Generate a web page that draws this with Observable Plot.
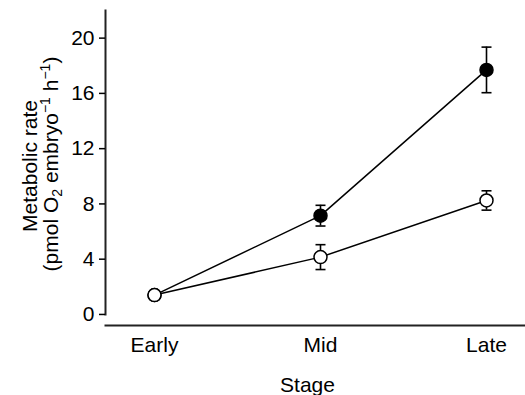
<!DOCTYPE html>
<html><head><meta charset="utf-8">
<script src="https://cdn.jsdelivr.net/npm/d3@7"></script>
<script src="https://cdn.jsdelivr.net/npm/@observablehq/plot@0.6"></script>
<style>
body{margin:0;background:#fff}
svg{font-family:"Liberation Sans",Arial,Helvetica,sans-serif}
</style>
</head><body><div id="chart"></div>
<script>
const stages = ["Early", "Mid", "Late"];
const filledMean = [1.4, 7.15, 17.7];
const filledSE = [0.2, 0.75, 1.65];
const openMean = [1.4, 4.15, 8.25];
const openSE = [0.2, 0.9, 0.7];
const yTicks = [0, 4, 8, 12, 16, 20];
const xLabel = "Stage";
const yLabelLine1 = "Metabolic rate";

const rows = (means, ses) => stages.map((s, i) => ({stage: s, mean: means[i], lo: means[i] - ses[i], hi: means[i] + ses[i]}));
const filled = rows(filledMean, filledSE);
const open = rows(openMean, openSE);

const cap = {draw(ctx, size) { const r = Math.sqrt(size / Math.PI); ctx.moveTo(-r, 0); ctx.lineTo(r, 0); }};

function series(data, fill) {
  return [
    Plot.line(data, {x: "stage", y: "mean", stroke: "black", strokeWidth: 1.5}),
    Plot.ruleX(data, {x: "stage", y1: "lo", y2: "hi", stroke: "black", strokeWidth: 1.6}),
    Plot.dot(data, {x: "stage", y: "lo", symbol: cap, r: 5, stroke: "black", strokeWidth: 1.6}),
    Plot.dot(data, {x: "stage", y: "hi", symbol: cap, r: 5, stroke: "black", strokeWidth: 1.6}),
    Plot.dot(data, {x: "stage", y: "mean", r: 6.5, fill, stroke: "black", strokeWidth: 1.5})
  ];
}

const FS = 21;
const chart = Plot.plot({
  width: 525,
  height: 395,
  marginLeft: 105,
  marginRight: 0,
  marginTop: 10,
  marginBottom: 70,
  style: {background: "#fff", color: "#000", fontFamily: '"Liberation Sans",Arial,Helvetica,sans-serif'},
  x: {type: "point", domain: stages, range: [154, 486], padding: 0},
  y: {domain: [-0.8, 22]},
  marks: [
    Plot.frame({anchor: "bottom", stroke: "#222", strokeWidth: 2}),
    Plot.frame({anchor: "left", insetBottom: 11, stroke: "#222", strokeWidth: 2}),
    Plot.axisY({ticks: yTicks, tickSize: 6, tickPadding: 5, fontSize: FS, label: null, strokeWidth: 1.5}),
    Plot.axisX({tickSize: 0, tickPadding: 12, fontSize: FS, label: null}),
    Plot.text([xLabel], {frameAnchor: "bottom", dx: -8, dy: 66, lineAnchor: "bottom", fontSize: FS}),
    ...series(filled, "black"),
    ...series(open, "white")
  ]
});

const svg = d3.select(chart);
svg.append("text")
  .attr("transform", "translate(37,166) rotate(-90)")
  .attr("text-anchor", "middle")
  .attr("font-size", FS)
  .attr("fill", "#000")
  .text(yLabelLine1);

const t2 = svg.append("text")
  .attr("transform", "translate(58,164) rotate(-90)")
  .attr("text-anchor", "middle")
  .attr("font-size", FS)
  .attr("fill", "#000");
t2.append("tspan").text("(pmol O");
t2.append("tspan").attr("font-size", 14).attr("dy", 4).text("2");
t2.append("tspan").attr("dy", -4).text(" embryo");
t2.append("tspan").attr("font-size", 14).attr("dy", -8).text("\u22121");
t2.append("tspan").attr("dy", 8).text(" h");
t2.append("tspan").attr("font-size", 14).attr("dy", -8).text("\u22121");
t2.append("tspan").attr("dy", 8).text(")");

document.getElementById("chart").appendChild(chart);
</script>
</body></html>
